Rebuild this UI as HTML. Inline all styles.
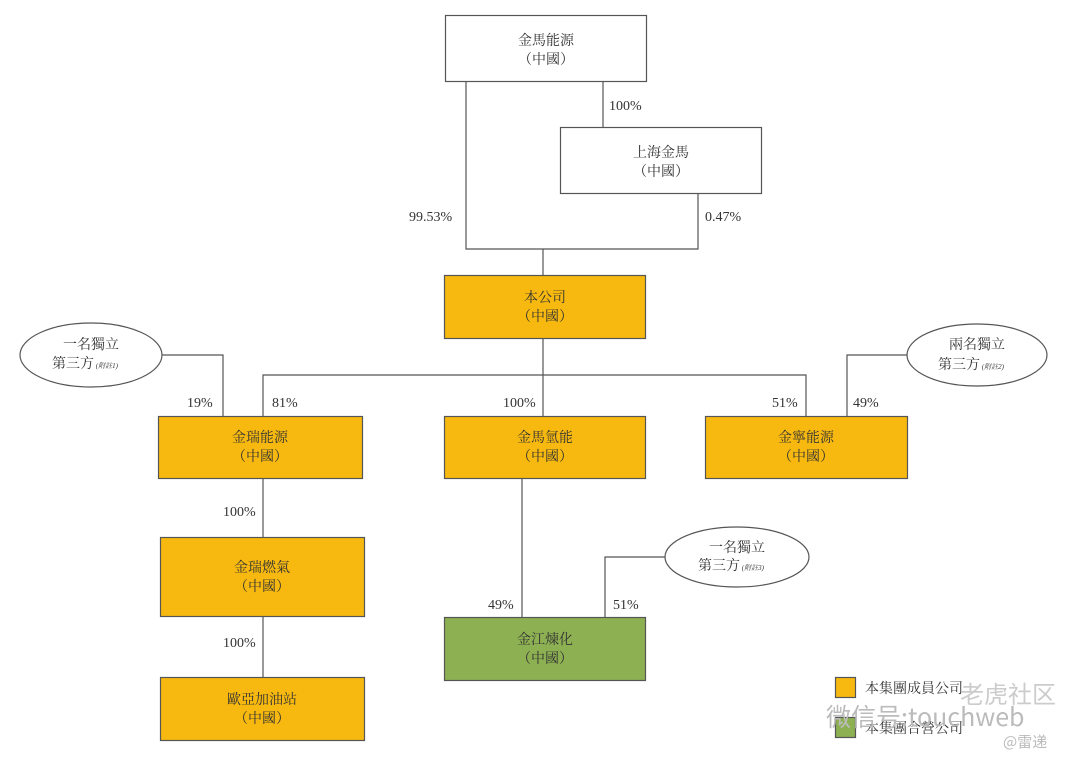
<!DOCTYPE html>
<html><head><meta charset="utf-8"><style>
html,body{margin:0;padding:0;background:#fff;}
svg{display:block;}
text{font-family:"Liberation Serif","Noto Serif CJK SC","Noto Sans CJK TC",serif;fill:#333;font-size:14px;}
</style></head><body>
<svg width="1080" height="765" viewBox="0 0 1080 765">
<g stroke="#555" stroke-width="1.2" fill="none">
<line x1="603" y1="82" x2="603" y2="127"/>
<polyline points="466,82 466,249 698,249 698,194"/>
<line x1="543" y1="249" x2="543" y2="275"/>
<line x1="543" y1="338" x2="543" y2="416"/>
<polyline points="263,416 263,375 806,375 806,416"/>
<polyline points="162,355 223,355 223,416"/>
<polyline points="907,355 847,355 847,416"/>
<line x1="263" y1="478" x2="263" y2="537"/>
<line x1="263" y1="616" x2="263" y2="677"/>
<line x1="522" y1="478" x2="522" y2="617"/>
<polyline points="665,557 605,557 605,617"/>
</g>
<g stroke="#555" stroke-width="1.2">
<rect x="445.5" y="15.5" width="201" height="66" fill="#fff"/>
<rect x="560.5" y="127.5" width="201" height="66" fill="#fff"/>
<rect x="444.5" y="275.5" width="201" height="63" fill="#F7B90F"/>
<rect x="158.5" y="416.5" width="204" height="62" fill="#F7B90F"/>
<rect x="444.5" y="416.5" width="201" height="62" fill="#F7B90F"/>
<rect x="705.5" y="416.5" width="202" height="62" fill="#F7B90F"/>
<rect x="160.5" y="537.5" width="204" height="79" fill="#F7B90F"/>
<rect x="160.5" y="677.5" width="204" height="63" fill="#F7B90F"/>
<rect x="444.5" y="617.5" width="201" height="63" fill="#8DB052"/>
<ellipse cx="91" cy="355" rx="71" ry="32" fill="#fff"/>
<ellipse cx="977" cy="355" rx="70" ry="31" fill="#fff"/>
<ellipse cx="737" cy="557" rx="72" ry="30" fill="#fff"/>
<rect x="835.5" y="677.5" width="20" height="20" fill="#F7B90F"/>
<rect x="835.5" y="717.5" width="20" height="20" fill="#8DB052"/>
</g>
<g text-anchor="middle">
<text x="546" y="45">金馬能源</text><text x="546" y="64">（中國）</text>
<text x="661" y="157">上海金馬</text><text x="661" y="176">（中國）</text>
<text x="545" y="302">本公司</text><text x="545" y="321">（中國）</text>
<text x="260" y="442">金瑞能源</text><text x="260" y="461">（中國）</text>
<text x="545" y="442">金馬氫能</text><text x="545" y="461">（中國）</text>
<text x="806" y="442">金寧能源</text><text x="806" y="461">（中國）</text>
<text x="262" y="572">金瑞燃氣</text><text x="262" y="591">（中國）</text>
<text x="262" y="704">歐亞加油站</text><text x="262" y="723">（中國）</text>
<text x="545" y="644">金江煉化</text><text x="545" y="663">（中國）</text>
<text x="91" y="349">一名獨立</text>
<text x="977" y="349">兩名獨立</text>
<text x="737" y="552">一名獨立</text>
</g>
<text x="52" y="368">第三方<tspan font-size="7" font-style="italic"> (附註1)</tspan></text>
<text x="938" y="369">第三方<tspan font-size="7" font-style="italic"> (附註2)</tspan></text>
<text x="698" y="570">第三方<tspan font-size="7" font-style="italic"> (附註3)</tspan></text>
<g>
<text x="609" y="110">100%</text>
<text x="409" y="221">99.53%</text>
<text x="705" y="221">0.47%</text>
<text x="187" y="407">19%</text>
<text x="272" y="407">81%</text>
<text x="503" y="407">100%</text>
<text x="772" y="407">51%</text>
<text x="853" y="407">49%</text>
<text x="223" y="516">100%</text>
<text x="223" y="647">100%</text>
<text x="488" y="609">49%</text>
<text x="613" y="609">51%</text>
</g>
<text x="865" y="693">本集團成員公司</text>
<text x="865" y="733">本集團合營公司</text>
<text x="826" y="726" style="font-family:'Noto Sans CJK SC',sans-serif;font-size:25px;fill:#bbb">微信号:touchweb</text>
<text x="960" y="703" style="font-family:'Noto Sans CJK SC',sans-serif;font-size:24px;fill:#ccc">老虎社区</text>
<text x="1003" y="747" style="font-family:'Noto Sans CJK SC',sans-serif;font-size:15px;fill:#bbb">@雷递</text>
</svg>
</body></html>
